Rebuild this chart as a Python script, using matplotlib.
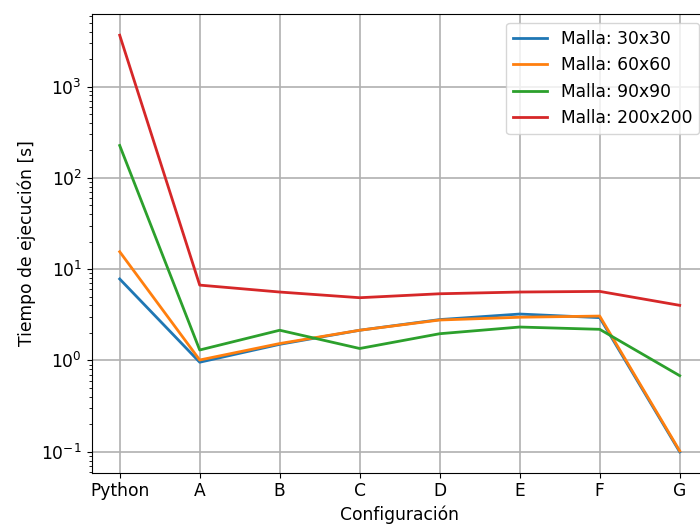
import matplotlib.pyplot as plt

configs = ['Python', 'A', 'B', 'C', 'D', 'E', 'F', 'G']

t_30 = [7.8, 0.955, 1.5, 2.14, 2.8, 3.22, 2.94, 0.0995]
t_60 = [15.5, 1.01, 1.53, 2.14, 2.77, 2.97, 3.06, 0.102]
t_90 = [226, 1.30, 2.14, 1.35, 1.96, 2.32, 2.19, 0.68]
t_200 = [3650, 6.68, 5.61, 4.86, 5.37, 5.61, 5.70, 4.01]

plt.rcParams['font.size'] = 12.3

fig = plt.figure(figsize=(7, 5.25), dpi=100)
ax = fig.add_axes([0.131, 0.0996, 0.88, 0.873])

ax.plot(configs, t_30, label='Malla: 30x30', lw=2)
ax.plot(configs, t_60, label='Malla: 60x60', lw=2)
ax.plot(configs, t_90, label='Malla: 90x90', lw=2)
ax.plot(configs, t_200, label='Malla: 200x200', lw=2)

ax.set_yscale('log')
ax.grid(True, lw=1.2)
ax.set_xlabel('Configuración')
ax.set_ylabel('Tiempo de ejecución [s]')
ax.legend(loc='upper right')

fig.savefig('out.png', dpi=100)
plt.close()
